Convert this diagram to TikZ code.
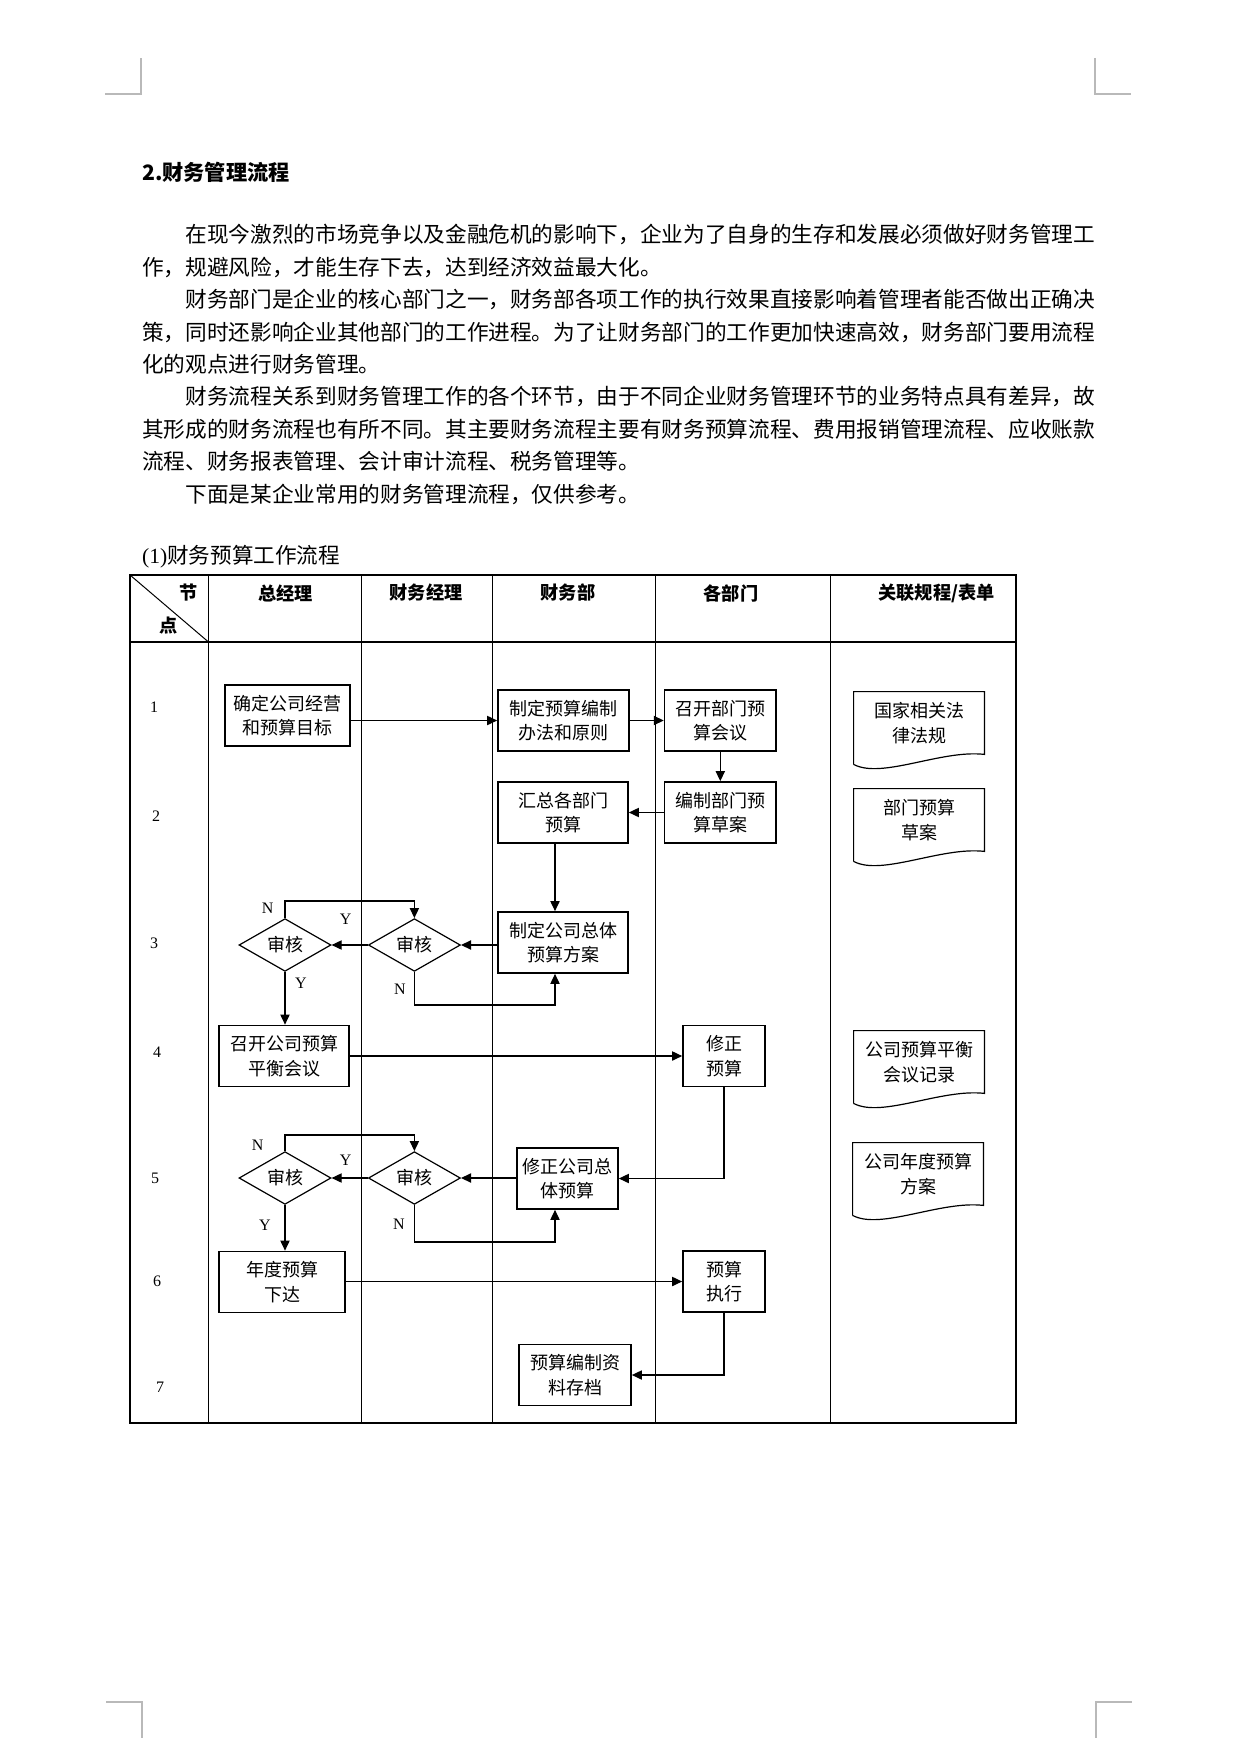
\documentclass[tikz,border=0pt]{standalone}
\usepackage{fontspec}
\setmainfont{Liberation Serif}
\newfontfamily\cjk{Noto Sans CJK SC}
\usetikzlibrary{arrows.meta,calc,shapes.geometric}
\tikzset{>={Triangle[length=5pt,width=4.6pt]},every node/.style={font=\cjk\fontsize{9}{12.2}\selectfont},
  flow/.style={line width=.6pt,->},outer/.style={line width=1.35pt},lanes/.style={line width=.5pt},
  box/.style={draw,line width=.85pt,align=center,inner sep=0pt,minimum height=30.5pt},
  check/.style={draw,diamond,line width=.6pt,inner sep=0pt,minimum width=46pt,minimum height=26pt},
  docbox/.style={align=center,inner sep=0pt,minimum width=65pt,minimum height=31pt},
  head/.style={font=\cjk\bfseries\fontsize{9.1}{11}\selectfont},lbl/.style={font=\rmfamily\fontsize{8}{9}\selectfont},
  cropmark/.style={gray!55,line width=.6pt}}
\newcommand{\docpath}[1]{\draw[line width=.6pt] ($(#1.south west)+(0,10)$)--(#1.north west)--(#1.north east)--(#1.south east)
  .. controls ($(#1.south east)+(-43,-5)$) and ($(#1.south west)+(28,25)$) .. ($(#1.south west)+(0,10)$);}
\begin{document}
\begin{tikzpicture}[x=.5pt,y=-.5pt]
\useasboundingbox (0,0) rectangle (1242,1748);
% page corners
\draw[cropmark] (105,94)--(141,94)--(141,58);\draw[cropmark] (1095,58)--(1095,94)--(1131,94);
\draw[cropmark] (106,1702)--(142,1702)--(142,1738);\draw[cropmark] (1132,1702)--(1096,1702)--(1096,1738);
% text above the table
\node[anchor=west,inner sep=0pt,font=\cjk\bfseries\fontsize{10.6}{13}\selectfont] (title) at (141.7,172) {2.财务管理流程};
\node[anchor=west,inner sep=0pt,align=left,font=\cjk\fontsize{10.83}{16.2}\selectfont] (body) at (141.7,364.5) {\hspace*{2em}在现今激烈的市场竞争以及金融危机的影响下，企业为了自身的生存和发展必须做好财务管理工\\作，规避风险，才能生存下去，达到经济效益最大化。\\\hspace*{2em}财务部门是企业的核心部门之一，财务部各项工作的执行效果直接影响着管理者能否做出正确决\\策，同时还影响企业其他部门的工作进程。为了让财务部门的工作更加快速高效，财务部门要用流程\\化的观点进行财务管理。\\\hspace*{2em}财务流程关系到财务管理工作的各个环节，由于不同企业财务管理环节的业务特点具有差异，故\\其形成的财务流程也有所不同。其主要财务流程主要有财务预算流程、费用报销管理流程、应收账款\\流程、财务报表管理、会计审计流程、税务管理等。\\\hspace*{2em}下面是某企业常用的财务管理流程，仅供参考。};
\node[anchor=west,inner sep=0pt,font=\fontsize{10.8}{13}\selectfont] (sub) at (141.7,557) {(1)\cjk 财务预算工作流程};
% table
\draw[outer] (130,575) rectangle (1016,1423);\draw[outer] (130,642)--(1016,642);
\draw[lanes] (208.5,575)--(208.5,1423) (361,575)--(361,1423) (492.5,575)--(492.5,1423) (655.5,575)--(655.5,1423) (830,575)--(830,1423);
\draw[lanes] (130,575)--(208.5,642);
\node[head] (hj) at (189,593) {节};\node[head] (hd) at (169,626) {点};
\node[head] (h1) at (285.5,593) {总经理};\node[head] (h2) at (426,593) {财务经理};\node[head] (h3) at (568,593) {财务部};
\node[head] (h4) at (731,593) {各部门};\node[head] (h5) at (936.5,593) {关联规程/表单};
\node[lbl] (r1) at (154,707) {1};\node[lbl] (r2) at (156,816) {2};\node[lbl] (r3) at (154,943) {3};\node[lbl] (r4) at (157,1052.5) {4};
\node[lbl] (r5) at (155,1178.5) {5};\node[lbl] (r6) at (157,1281) {6};\node[lbl] (r7) at (160,1387) {7};
% steps
\node[box,minimum width=62.5pt] (goal) at (287.5,715.5) {确定公司经营\\和预算目标};
\node[box,minimum width=65.5pt] (rule) at (563.5,720.5) {制定预算编制\\办法和原则};
\node[box,minimum width=55.7pt] (meet) at (720.3,720.5) {召开部门预\\算会议};
\node[docbox] (law) at (919,723) {国家相关法\\律法规};\docpath{law}
\node[box,minimum width=65pt] (sum) at (563,812.5) {汇总各部门\\预算};
\node[box,minimum width=55.7pt] (draft) at (720.3,812.5) {编制部门预\\算草案};
\node[docbox] (draftdoc) at (919,820) {部门预算\\草案};\docpath{draftdoc}
\node[box,minimum width=65pt] (plan) at (563,942.5) {制定公司总体\\预算方案};
\node[check] (fmA) at (414.4,945) {审核};\node[check] (gmA) at (285,945) {审核};
\node[box,minimum width=65pt] (bal) at (284,1056) {召开公司预算\\平衡会议};
\node[box,minimum width=41pt] (fix) at (724,1056) {修正\\预算};
\node[docbox] (balrec) at (919,1062) {公司预算平衡\\会议记录};\docpath{balrec}
\node[box,minimum width=50.5pt] (refix) at (567.5,1178.5) {修正公司总\\体预算};
\node[check] (fmB) at (414.4,1178) {审核};\node[check] (gmB) at (285,1178) {审核};
\node[docbox] (annual) at (918,1174) {公司年度预算\\方案};\docpath{annual}
\node[box,minimum width=63pt] (issue) at (282,1282) {年度预算\\下达};
\node[box,minimum width=41pt] (exec) at (724,1281.5) {预算\\执行};
\node[box,minimum width=56pt] (arch) at (575,1375) {预算编制资\\料存档};
\coordinate (vx) at (555,0);
% connectors
\draw[flow] (goal.east |- rule)--(rule.west);\draw[flow] (rule)--(meet);\draw[flow] (meet)--(draft);\draw[flow] (draft)--(sum);
\draw[flow] (sum.south -| vx)--(plan.north -| vx);
\draw[flow] (plan.west |- fmA)--(fmA.east);\draw[flow] (fmA)--(gmA);
\draw[flow] (gmA.north)--++(0,-17) -| (fmA.north);\draw[flow] (fmA.south)--++(0,33) -| (plan.south -| vx);
\draw[flow] (gmA)--(gmA |- bal.north);
\draw[flow] (bal)--(fix);\draw[flow] (fix.south) |- (refix.east);
\draw[flow] (refix.west |- fmB)--(fmB.east);\draw[flow] (fmB)--(gmB);
\draw[flow] (gmB.north)--++(0,-16) -| (fmB.north);\draw[flow] (fmB.south)--++(0,37) -| (refix.south -| vx);
\draw[flow] (gmB)--(gmB |- issue.north);
\draw[flow] (issue.east |- exec)--(exec.west);\draw[flow] (exec.south) |- (arch.east);
\node[lbl] (nA) at (267.6,908.7) {N};\node[lbl] (yA) at (345.6,918.8) {Y};\node[lbl] (nB) at (400,989) {N};\node[lbl] (yB) at (301,983.5) {Y};
\node[lbl] (nC) at (257.6,1145) {N};\node[lbl] (yC) at (345.6,1160.7) {Y};\node[lbl] (nD) at (399,1224) {N};\node[lbl] (yD) at (265,1225) {Y};
\end{tikzpicture}
\end{document}
